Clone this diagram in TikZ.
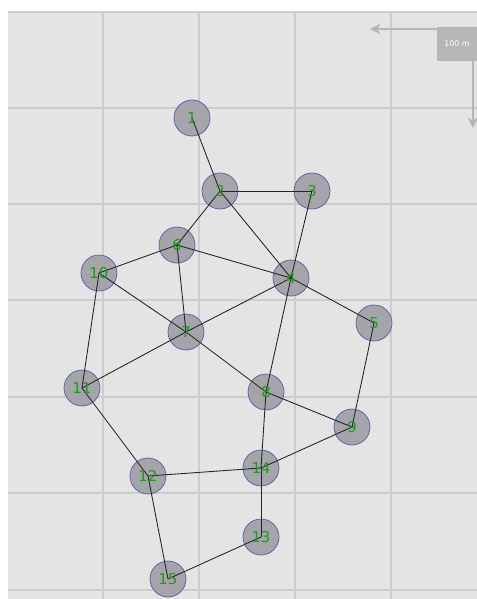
\documentclass[tikz,border=0pt]{standalone}
\usepackage{fontspec}
\setsansfont{DejaVu Sans}
\usepackage{tikz}
\usetikzlibrary{arrows.meta, positioning}
\definecolor{bgGray}{HTML}{E4E4E4}
\definecolor{gridGray}{HTML}{CDCDCD}
\definecolor{nodeFill}{HTML}{A4A4AA}
\definecolor{nodeRim}{HTML}{5A5AA6}
\definecolor{labGreen}{HTML}{1E9A1E}
\definecolor{barGray}{HTML}{B6B6B6}
\tikzset{
	mote/.style={circle, fill=nodeFill, draw=nodeRim, line width=0.4pt,
		minimum size=0.72cm, inner sep=0pt},
	lbl/.style={text=labGreen, font=\sffamily\fontsize{8.5}{9}\selectfont, inner sep=0pt},
	link/.style={black!85, line width=0.5pt}
}

\begin{document}
\begin{tikzpicture}[x=0.02cm, y=-0.02cm]
	\useasboundingbox (0,0) rectangle (477,599);
	\fill[white] (0,0) rectangle (477,599);
	\fill[bgGray] (8,11) rectangle (477,599);
	
	% grid
	\foreach \gx in {103,199,295,391}
		\draw[gridGray, line width=0.8pt] (\gx,11) -- (\gx,599);
	\foreach \gy in {12,108,204,300,397,493,590}
		\draw[gridGray, line width=0.8pt] (8,\gy) -- (477,\gy);
	
	% motes
	\node[mote] (n1) at (192,118) {};
	\node[mote] (n2) at (220,191) {};
	\node[mote] (n3) at (312,191) {};
	\node[mote] (n4) at (291,278) {};
	\node[mote] (n5) at (374,323) {};
	\node[mote] (n6) at (177,245) {};
	\node[mote] (n7) at (186,332) {};
	\node[mote] (n8) at (266,392) {};
	\node[mote] (n9) at (352,427) {};
	\node[mote] (n10) at (99,273) {};
	\node[mote] (n11) at (82,388) {};
	\node[mote] (n12) at (148,476) {};
	\node[mote] (n13) at (261,537) {};
	\node[mote] (n14) at (261,468) {};
	\node[mote] (n15) at (168,579) {};
	
	% links
	\foreach \a/\b in {1/2, 2/3, 2/6, 2/4, 3/4, 6/10, 6/7, 6/4, 10/7, 10/11,
		7/4, 7/8, 11/7, 4/5, 4/8, 5/9, 8/9, 8/14, 9/14, 11/12, 12/14, 12/15,
		14/13, 13/15}
		\draw[link] (n\a.center) -- (n\b.center);
	
	% labels
	\foreach \k in {1,...,15}
		\node[lbl] at (n\k.center) {\k};
	
	% scale bar
	\node[fill=barGray, minimum width=0.8cm, minimum height=0.68cm, inner sep=0pt,
		text=white, font=\sffamily\fontsize{4.5}{5}\selectfont] (bar) at (457,44) {100 m};
	\coordinate (barW) at (370,29);
	\coordinate (barS) at (473,128);
	\draw[barGray, line width=1.4pt, -{Stealth[length=6pt,width=6pt]}] (bar.north west |- 0,29) -- (barW);
	\draw[barGray, line width=1.4pt, -{Stealth[length=6pt,width=6pt]}] (473,0 |- bar.south) -- (barS);
\end{tikzpicture}
\end{document}
